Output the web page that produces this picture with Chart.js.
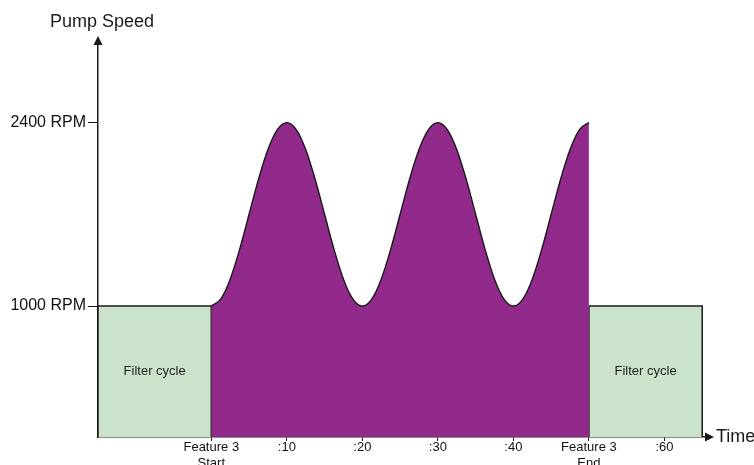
<!DOCTYPE html>
<html>
<head>
<meta charset="utf-8">
<script src="https://cdn.jsdelivr.net/npm/chart.js@4"></script>
<style>
  html, body { margin: 0; padding: 0; background: #fff; }
  #wrap { width: 754px; height: 465px; position: relative; }
</style>
</head>
<body>
<div id="wrap"><canvas id="pumpChart"></canvas></div>
<script>
// Chart values
const waveTime = [0, 1.25, 2.5, 3.75, 5, 6.25, 7.5, 8.75, 10, 11.25, 12.5, 13.75, 15, 16.25, 17.5, 18.75,
  20, 21.25, 22.5, 23.75, 25, 26.25, 27.5, 28.75, 30, 31.25, 32.5, 33.75, 35, 36.25, 37.5, 38.75,
  40, 41.25, 42.5, 43.75, 45, 46.25, 47.5, 48.75, 50];
const waveRpm = [1000, 1053, 1205, 1432, 1700, 1968, 2195, 2347, 2400, 2347, 2195, 1968, 1700, 1432, 1205, 1053,
  1000, 1053, 1205, 1432, 1700, 1968, 2195, 2347, 2400, 2347, 2195, 1968, 1700, 1432, 1205, 1053,
  1000, 1053, 1205, 1432, 1700, 1968, 2195, 2347, 2400];
const filterBefore = [-15, 0];
const filterAfter = [50, 65];
const filterRpm = 1000;
const xTickValues = [0, 10, 20, 30, 40, 50, 60];
const xTickLabels = [['Feature 3', 'Start'], ':10', ':20', ':30', ':40', ['Feature 3', 'End'], ':60'];
const yTickValues = [1000, 2400];
const yTickLabels = ['1000 RPM', '2400 RPM'];

const FONT = '"Liberation Sans", Arial, sans-serif';
const PURPLE = '#922a8c';
const GREEN = '#cce3cb';
const INK = '#1a1a1a';

// Rectangle outline for a filter cycle block
function boxPoints(range, rpm) {
  return [
    { x: range[0], y: 0 },
    { x: range[0], y: rpm },
    { x: range[1], y: rpm },
    { x: range[1], y: 0 }
  ];
}

// Axis arrows and free text
const annotate = {
  id: 'annotate',
  afterDraw(chart) {
    const ctx = chart.ctx;
    const area = chart.chartArea;
    const xs = chart.scales.x;
    const ys = chart.scales.y;
    ctx.save();
    ctx.fillStyle = INK;

    // y-axis arrow
    ctx.beginPath();
    ctx.moveTo(area.left, area.top - 8);
    ctx.lineTo(area.left - 4.5, area.top + 1);
    ctx.lineTo(area.left + 4.5, area.top + 1);
    ctx.closePath();
    ctx.fill();

    // x-axis arrow
    ctx.beginPath();
    ctx.moveTo(area.right + 8, area.bottom);
    ctx.lineTo(area.right - 1, area.bottom - 4.5);
    ctx.lineTo(area.right - 1, area.bottom + 4.5);
    ctx.closePath();
    ctx.fill();

    ctx.font = '18px ' + FONT;
    ctx.textBaseline = 'middle';
    ctx.textAlign = 'left';
    ctx.fillText('Pump Speed', 50, 22);
    ctx.fillText('Time', area.right + 10, area.bottom);

    ctx.font = '13px ' + FONT;
    ctx.textAlign = 'center';
    ctx.fillStyle = '#222';
    const yMid = ys.getPixelForValue(filterRpm / 2);
    [filterBefore, filterAfter].forEach(r => {
      const xMid = xs.getPixelForValue((r[0] + r[1]) / 2);
      ctx.fillText('Filter cycle', xMid, yMid);
    });
    ctx.restore();
  }
};

const ctx = document.getElementById('pumpChart').getContext('2d');
new Chart(ctx, {
  type: 'line',
  data: {
    datasets: [
      {
        label: 'Feature 3',
        data: waveTime.map((t, i) => ({ x: t, y: waveRpm[i] })),
        borderColor: INK,
        borderWidth: 1.4,
        backgroundColor: PURPLE,
        fill: 'origin',
        cubicInterpolationMode: 'monotone',
        pointRadius: 0
      },
      {
        label: 'Filter cycle',
        data: boxPoints(filterBefore, filterRpm),
        borderColor: INK,
        borderWidth: 1.5,
        backgroundColor: GREEN,
        fill: 'origin',
        tension: 0,
        pointRadius: 0
      },
      {
        label: 'Filter cycle',
        data: boxPoints(filterAfter, filterRpm),
        borderColor: INK,
        borderWidth: 1.5,
        backgroundColor: GREEN,
        fill: 'origin',
        tension: 0,
        pointRadius: 0
      }
    ]
  },
  options: {
    responsive: true,
    maintainAspectRatio: false,
    animation: false,
    layout: { padding: { top: 44, right: 48, left: 0, bottom: 0 } },
    plugins: {
      legend: { display: false },
      tooltip: { enabled: false }
    },
    scales: {
      x: {
        type: 'linear',
        min: -15,
        max: 65.5,
        afterFit: scale => { scale.height = 28; },
        afterBuildTicks: scale => {
          scale.ticks = xTickValues.map(v => ({ value: v }));
        },
        border: { color: INK, width: 1.5 },
        grid: { drawOnChartArea: false, drawTicks: true, tickLength: 4, color: INK },
        ticks: {
          autoSkip: false,
          maxRotation: 0,
          padding: -1,
          color: '#111',
          font: { family: FONT, size: 13, lineHeight: 1.2 },
          callback: value => {
            const i = xTickValues.indexOf(value);
            return i >= 0 ? xTickLabels[i] : '';
          }
        }
      },
      y: {
        min: 0,
        max: 3000,
        afterFit: scale => { scale.width = 98; },
        afterBuildTicks: scale => {
          scale.ticks = yTickValues.map(v => ({ value: v }));
        },
        border: { color: INK, width: 1.5 },
        grid: { drawOnChartArea: false, drawTicks: true, tickLength: 10, color: INK },
        ticks: {
          padding: 2,
          color: '#111',
          font: { family: FONT, size: 16 },
          callback: value => {
            const i = yTickValues.indexOf(value);
            return i >= 0 ? yTickLabels[i] : '';
          }
        }
      }
    }
  },
  plugins: [annotate]
});
</script>
</body>
</html>
